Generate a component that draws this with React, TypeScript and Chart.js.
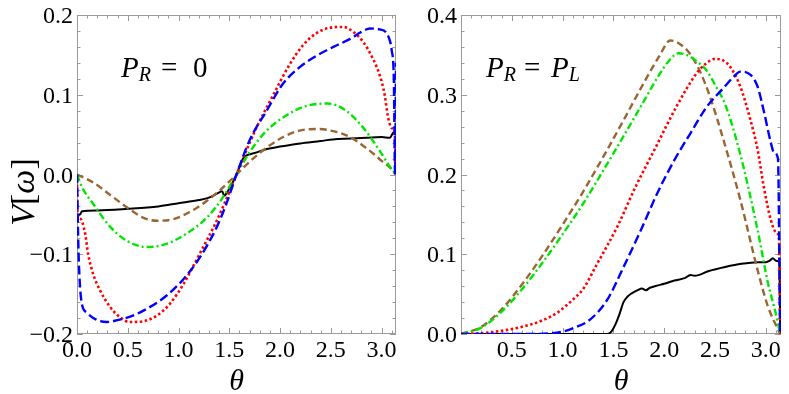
import React, { useEffect, useRef, useState } from 'react';
import { Chart, registerables } from 'chart.js';

Chart.register(...registerables);

const SERIF = 'Liberation Serif, Times New Roman, Times, serif';

// ---------- Left panel: P_R = 0 ----------
const blueLTheta = [0, 0.01, 0.02, 0.045, 0.095, 0.19, 0.29, 0.42, 0.55, 0.72, 0.88, 1.05, 1.21, 1.376, 1.47, 1.571, 1.7, 1.868, 2.03, 2.197, 2.36, 2.525, 2.69, 2.79, 2.886, 2.98, 3.07, 3.1, 3.12, 3.133, 3.1416];
const blueLV = [0, -0.07, -0.116, -0.16, -0.173, -0.182, -0.185, -0.182, -0.177, -0.166, -0.152, -0.131, -0.104, -0.066, -0.037, 0, 0.043, 0.08, 0.114, 0.135, 0.149, 0.16, 0.17, 0.178, 0.183, 0.182, 0.172, 0.155, 0.12, 0.0, 0.14];

const redLTheta = [0, 0.005, 0.03, 0.08, 0.11, 0.16, 0.226, 0.325, 0.423, 0.52, 0.653, 0.785, 0.916, 1.05, 1.21, 1.376, 1.507, 1.571, 1.635, 1.765, 1.93, 2.09, 2.225, 2.356, 2.49, 2.62, 2.72, 2.82, 2.915, 2.98, 3.03, 3.06, 3.1, 3.13, 3.136, 3.1416];
const redLV = [0, -0.05, -0.055, -0.074, -0.1, -0.125, -0.145, -0.166, -0.179, -0.185, -0.184, -0.177, -0.162, -0.137, -0.099, -0.058, -0.02, 0, 0.02, 0.058, 0.099, 0.137, 0.162, 0.177, 0.184, 0.185, 0.179, 0.166, 0.145, 0.125, 0.1, 0.074, 0.058, 0.05, 0, 0.06];

const greenLTheta = [0, 0.05, 0.16, 0.33, 0.49, 0.686, 0.88, 1.08, 1.28, 1.44, 1.571, 1.7, 1.86, 2.06, 2.26, 2.47, 2.65, 2.81, 2.98, 3.08, 3.1416];
const greenLV = [0, -0.016, -0.037, -0.066, -0.083, -0.091, -0.087, -0.074, -0.054, -0.028, 0, 0.028, 0.054, 0.074, 0.086, 0.089, 0.08, 0.06, 0.03, 0.01, 0];

const brownLTheta = [0, 0.16, 0.33, 0.49, 0.65, 0.785, 0.95, 1.11, 1.28, 1.44, 1.571, 1.7, 1.86, 2.03, 2.19, 2.38, 2.5, 2.69, 2.85, 2.92, 3.0, 3.08, 3.1416];
const brownLV = [0, -0.01, -0.026, -0.041, -0.054, -0.058, -0.056, -0.047, -0.033, -0.016, 0, 0.016, 0.033, 0.047, 0.055, 0.057, 0.055, 0.047, 0.033, 0.026, 0.017, 0.009, 0];

const blackLTheta = [0, 0.03, 0.05, 0.2, 0.5, 0.8, 1.0, 1.2, 1.3, 1.38, 1.43, 1.45, 1.47, 1.5, 1.571, 1.64, 1.67, 1.75, 1.87, 2.0, 2.2, 2.4, 2.52, 2.7, 2.85, 3.0, 3.08, 3.12, 3.1416];
const blackLV = [-0.051, -0.05, -0.046, -0.045, -0.043, -0.04, -0.036, -0.032, -0.029, -0.024, -0.021, -0.027, -0.024, -0.018, 0, 0.021, 0.024, 0.027, 0.032, 0.035, 0.039, 0.042, 0.044, 0.045, 0.046, 0.047, 0.046, 0.053, 0.05];

// ---------- Right panel: P_R = P_L ----------
const brownRTheta = [0, 0.2, 0.4, 0.6, 0.8, 1.0, 1.2, 1.4, 1.6, 1.8, 1.95, 2.06, 2.15, 2.25, 2.35, 2.45, 2.58, 2.75, 2.92, 3.02, 3.1416];
const brownRV = [0, 0.009, 0.031, 0.062, 0.098, 0.137, 0.178, 0.222, 0.268, 0.315, 0.348, 0.368, 0.364, 0.352, 0.33, 0.298, 0.245, 0.168, 0.08, 0.035, 0];

const greenRTheta = [0, 0.2, 0.4, 0.6, 0.8, 1.0, 1.2, 1.4, 1.6, 1.8, 1.95, 2.05, 2.14, 2.22, 2.32, 2.42, 2.52, 2.6, 2.75, 2.92, 3.02, 3.1, 3.1416];
const greenRV = [0, 0.008, 0.028, 0.056, 0.089, 0.125, 0.163, 0.205, 0.248, 0.292, 0.325, 0.343, 0.352, 0.35, 0.342, 0.33, 0.308, 0.288, 0.225, 0.13, 0.065, 0.025, 0];

const redRTheta = [0, 0.2, 0.4, 0.6, 0.8, 0.95, 1.1, 1.2, 1.34, 1.54, 1.72, 1.92, 2.12, 2.32, 2.42, 2.5, 2.58, 2.65, 2.75, 2.85, 2.92, 2.98, 3.05, 3.1, 3.13, 3.1416];
const redRV = [0, 0.001, 0.004, 0.009, 0.017, 0.027, 0.043, 0.056, 0.088, 0.135, 0.185, 0.235, 0.285, 0.327, 0.34, 0.345, 0.343, 0.335, 0.31, 0.268, 0.231, 0.185, 0.143, 0.128, 0.12, 0];

const blueRTheta = [0, 0.6, 0.9, 1.0, 1.1, 1.27, 1.44, 1.6, 1.77, 1.93, 2.1, 2.26, 2.42, 2.58, 2.68, 2.75, 2.85, 2.92, 2.98, 3.05, 3.08, 3.12, 3.1416];
const blueRV = [0, 0, 0.001, 0.003, 0.007, 0.018, 0.043, 0.084, 0.13, 0.176, 0.218, 0.252, 0.285, 0.308, 0.322, 0.329, 0.325, 0.31, 0.28, 0.24, 0.228, 0.22, 0];

const blackRTheta = [0, 1.44, 1.48, 1.52, 1.56, 1.6, 1.64, 1.68, 1.74, 1.78, 1.82, 1.86, 1.94, 2.0, 2.1, 2.2, 2.26, 2.3, 2.44, 2.6, 2.76, 2.92, 3.0, 3.04, 3.07, 3.1, 3.135, 3.1416];
const blackRV = [0, 0, 0.003, 0.012, 0.025, 0.04, 0.047, 0.051, 0.055, 0.057, 0.055, 0.058, 0.061, 0.063, 0.067, 0.07, 0.074, 0.073, 0.079, 0.084, 0.088, 0.09, 0.09, 0.092, 0.095, 0.092, 0.09, 0];

// ---------- ticks ----------
const xTicksLeft = [0, 0.5, 1.0, 1.5, 2.0, 2.5, 3.0];
const yTicksLeft = [-0.2, -0.1, 0.0, 0.1, 0.2];
const xTicksRight = [0.5, 1.0, 1.5, 2.0, 2.5, 3.0];
const yTicksRight = [0.0, 0.1, 0.2, 0.3, 0.4];

const STYLES = {
  blue: { color: '#0000ff', dash: [9, 4], width: 2.4 },
  red: { color: '#ff0000', dash: [2.5, 2.5], width: 2.6 },
  green: { color: '#00e600', dash: [7, 3, 2, 3], width: 2.4 },
  brown: { color: '#996633', dash: [7, 4], width: 2.4 },
  black: { color: '#000000', dash: [], width: 2 },
};

const pts = (t: number[], v: number[]) => t.map((x, i) => ({ x, y: v[i] }));

const ds = (key: keyof typeof STYLES, t: number[], v: number[]) => ({
  label: key,
  data: pts(t, v),
  showLine: true,
  borderColor: STYLES[key].color,
  backgroundColor: STYLES[key].color,
  borderDash: STYLES[key].dash,
  borderWidth: STYLES[key].width,
  pointRadius: 0,
  cubicInterpolationMode: 'monotone',
  fill: false,
});

const fmt = (v: number) => (Math.abs(v) < 1e-9 ? '0.0' : v.toFixed(1)).replace('-', '\u2212');

const framePlugin = {
  id: 'frame',
  beforeDatasetsDraw(chart: any) {
    const { ctx, chartArea: a, scales } = chart;
    const xs = scales.x, ys = scales.y;
    ctx.save();
    ctx.strokeStyle = '#9a9a9a';
    ctx.lineWidth = 1;
    ctx.strokeRect(a.left + 0.5, a.top + 0.5, a.right - a.left - 1, a.bottom - a.top - 1);
    ctx.beginPath();
    for (let i = 0; i * 0.1 <= xs.max + 1e-9; i++) {
      const len = i % 5 === 0 ? 6 : 3.5;
      const px = Math.round(xs.getPixelForValue(i * 0.1)) + 0.5;
      ctx.moveTo(px, a.bottom);
      ctx.lineTo(px, a.bottom - len);
      ctx.moveTo(px, a.top);
      ctx.lineTo(px, a.top + len);
    }
    for (let i = 0; ys.min + i * 0.02 <= ys.max + 1e-9; i++) {
      const len = i % 5 === 0 ? 6 : 3.5;
      const py = Math.round(ys.getPixelForValue(ys.min + i * 0.02)) + 0.5;
      ctx.moveTo(a.left, py);
      ctx.lineTo(a.left + len, py);
      ctx.moveTo(a.right, py);
      ctx.lineTo(a.right - len, py);
    }
    ctx.stroke();
    ctx.restore();
  },
};

type Label = { text: string; x: number; y: number; right: boolean };

type PanelProps = {
  width: number;
  datasets: any[];
  xMax: number;
  yMin: number;
  yMax: number;
  xTicks: number[];
  yTicks: number[];
  axisWidth: number;
  padRight: number;
  children?: React.ReactNode;
};

function Panel(p: PanelProps) {
  const ref = useRef<HTMLCanvasElement>(null);
  const [labels, setLabels] = useState<Label[]>([]);
  const [thetaX, setThetaX] = useState<number>(p.width / 2);
  useEffect(() => {
    const chart = new Chart(ref.current as HTMLCanvasElement, {
      type: 'scatter',
      data: { datasets: p.datasets },
      options: {
        animation: false,
        responsive: false,
        maintainAspectRatio: false,
        layout: { padding: { top: 15, right: p.padRight, left: 0, bottom: 0 } },
        plugins: { legend: { display: false }, tooltip: { enabled: false } },
        scales: {
          x: {
            type: 'linear',
            min: 0,
            max: p.xMax,
            grid: { display: false, drawTicks: false },
            border: { display: false },
            afterBuildTicks: (s: any) => { s.ticks = p.xTicks.map((v) => ({ value: v })); },
            afterFit: (s: any) => { s.height = 60; },
            ticks: { display: false },
          },
          y: {
            type: 'linear',
            min: p.yMin,
            max: p.yMax,
            grid: { display: false, drawTicks: false },
            border: { display: false },
            afterBuildTicks: (s: any) => { s.ticks = p.yTicks.map((v) => ({ value: v })); },
            afterFit: (s: any) => { s.width = p.axisWidth; },
            ticks: { display: false },
          },
        },
      } as any,
      plugins: [framePlugin as any],
    });
    const a = chart.chartArea;
    const xs: any = chart.scales.x;
    const ys: any = chart.scales.y;
    const out: Label[] = [];
    xs.ticks.forEach((t: any) => out.push({ text: fmt(t.value), x: xs.getPixelForValue(t.value), y: a.bottom + 15, right: false }));
    ys.ticks.forEach((t: any) => out.push({ text: fmt(t.value), x: a.left - 4, y: ys.getPixelForValue(t.value), right: true }));
    setLabels(out);
    setThetaX((a.left + a.right) / 2);
    return () => { chart.destroy(); };
  }, []);
  return (
    <div style={{ position: 'relative', width: p.width, height: 394 }}>
      <canvas ref={ref} width={p.width} height={394} style={{ display: 'block', width: p.width, height: 394 }} />
      <svg
        width={p.width}
        height={394}
        style={{ position: 'absolute', left: 0, top: 0, pointerEvents: 'none', overflow: 'visible' }}
        fontFamily={SERIF}
      >
        {labels.map((l, i) => (
          <text
            key={i}
            x={l.x}
            y={l.y}
            fontSize={24}
            fill="#000"
            textAnchor={l.right ? 'end' : 'middle'}
            dominantBaseline="central"
          >
            {l.text}
          </text>
        ))}
        <text x={thetaX} y={390} fontSize={30} fontStyle="italic" textAnchor="middle" fill="#000">θ</text>
        {p.children}
      </svg>
    </div>
  );
}

export default function App() {
  const left = [
    ds('blue', blueLTheta, blueLV),
    ds('red', redLTheta, redLV),
    ds('green', greenLTheta, greenLV),
    ds('brown', brownLTheta, brownLV),
    ds('black', blackLTheta, blackLV),
  ];
  const right = [
    ds('blue', blueRTheta, blueRV),
    ds('red', redRTheta, redRV),
    ds('green', greenRTheta, greenRV),
    ds('brown', brownRTheta, brownRV),
    ds('black', blackRTheta, blackRV),
  ];
  return (
    <div style={{ position: 'absolute', left: 0, top: 0, width: 789, height: 394, display: 'flex', background: '#fff' }}>
      <Panel width={400} datasets={left} xMax={Math.PI} yMin={-0.2} yMax={0.2} xTicks={xTicksLeft} yTicks={yTicksLeft} axisWidth={77} padRight={4}>
        <text x={22} y={192} fontSize={34} fill="#000" textAnchor="middle" dominantBaseline="central" transform="rotate(-90 22 192)">
          <tspan fontStyle="italic">V</tspan>[<tspan fontStyle="italic">ω</tspan>]
        </text>
        <text x={121} y={77} fontSize={29} fill="#000">
          <tspan fontStyle="italic">P</tspan>
          <tspan fontStyle="italic" fontSize={20} dy={4}>R</tspan>
          <tspan x={161} dy={-4}>=</tspan>
          <tspan x={193}>0</tspan>
        </text>
      </Panel>
      <Panel width={389} datasets={right} xMax={3.15} yMin={0} yMax={0.4} xTicks={xTicksRight} yTicks={yTicksRight} axisWidth={61} padRight={8}>
        <text x={86} y={77} fontSize={29} fill="#000">
          <tspan fontStyle="italic">P</tspan>
          <tspan fontStyle="italic" fontSize={20} dy={4}>R</tspan>
          <tspan x={124} dy={-4}>=</tspan>
          <tspan x={151} fontStyle="italic">P</tspan>
          <tspan fontStyle="italic" fontSize={20} dy={4}>L</tspan>
        </text>
      </Panel>
    </div>
  );
}
